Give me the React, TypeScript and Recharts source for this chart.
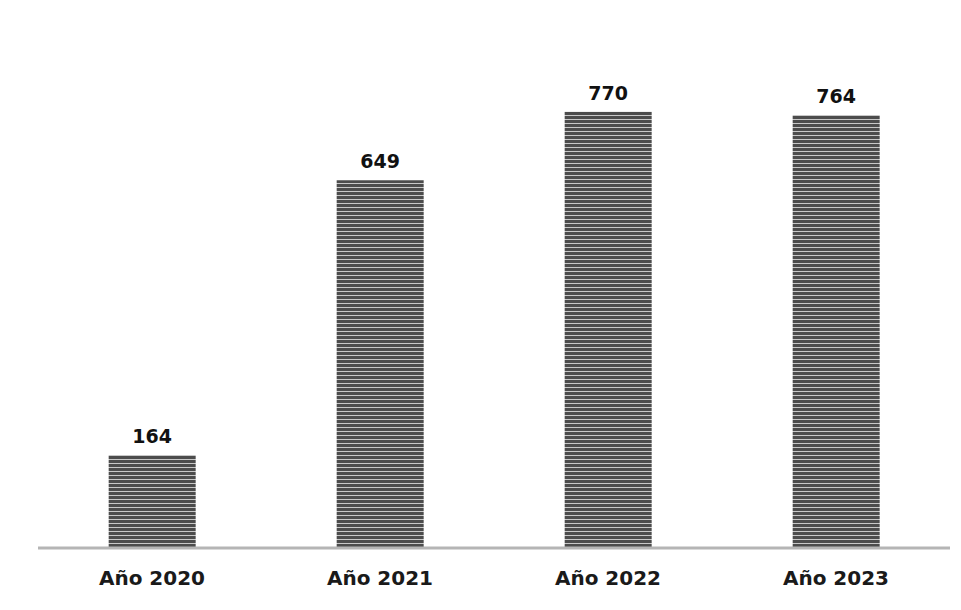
import React from "react";
import { BarChart, Bar, XAxis, YAxis, LabelList } from "recharts";

const years = ["Año 2020", "Año 2021", "Año 2022", "Año 2023"];
const totals = [164, 649, 770, 764];

const data = years.map((year, i) => ({ year, total: totals[i] }));

export default function App() {
  return (
    <div style={{ position: "absolute", left: 0, top: 0, background: "#fff" }}>
      <BarChart
        width={961}
        height={610}
        data={data}
        margin={{ top: 38, right: 11, bottom: 32, left: 38 }}
        barCategoryGap="31%"
      >
        <defs>
          <pattern id="stripes" width="8" height="4" patternUnits="userSpaceOnUse">
            <rect width="8" height="4" fill="#4c4c4c" />
            <rect y="3" width="8" height="1" fill="#c8c8c8" />
          </pattern>
        </defs>
        <XAxis
          dataKey="year"
          tickLine={false}
          axisLine={{ stroke: "#b5b5b5", strokeWidth: 3 }}
          tick={{ fill: "#1a1a1a", fontSize: 20, fontFamily: "DejaVu Sans", fontWeight: 600 }}
          tickMargin={17}
        />
        <YAxis hide domain={[0, 900]} />
        <Bar dataKey="total" fill="url(#stripes)" isAnimationActive={false}>
          <LabelList
            dataKey="total"
            position="top"
            offset={12}
            style={{ fill: "#111", fontSize: 19, fontWeight: "bold", fontFamily: "DejaVu Sans" }}
          />
        </Bar>
      </BarChart>
    </div>
  );
}
